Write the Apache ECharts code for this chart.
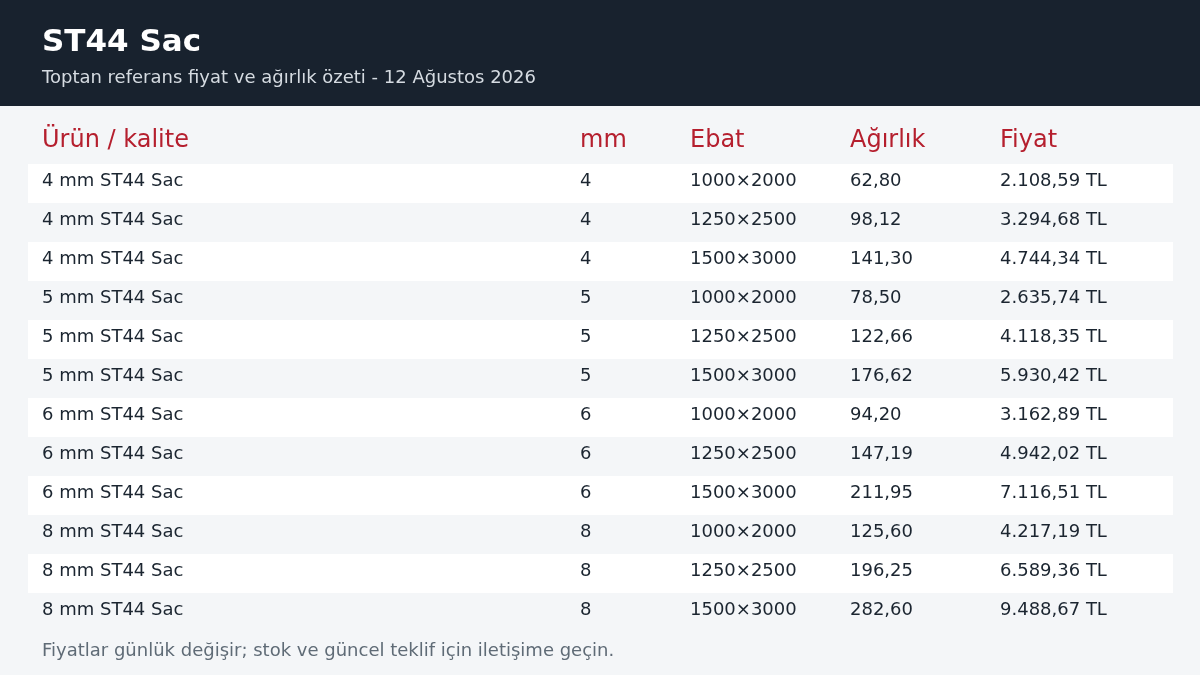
<!DOCTYPE html>
<html><head><meta charset="utf-8">
<script src="https://cdn.jsdelivr.net/npm/echarts@6/dist/echarts.min.js"></script>
<style>html,body{margin:0;padding:0;background:#f4f6f8}#c{width:1200px;height:675px}</style>
</head><body><div id="c"></div>
<script>
var title = 'ST44 Sac'
var subtitle = 'Toptan referans fiyat ve ağırlık özeti - 12 Ağustos 2026'
var footer = 'Fiyatlar günlük değişir; stok ve güncel teklif için iletişime geçin.'
var headers = ['Ürün / kalite', 'mm', 'Ebat', 'Ağırlık', 'Fiyat']
var products = ['4 mm ST44 Sac', '4 mm ST44 Sac', '4 mm ST44 Sac', '5 mm ST44 Sac', '5 mm ST44 Sac', '5 mm ST44 Sac',
    '6 mm ST44 Sac', '6 mm ST44 Sac', '6 mm ST44 Sac', '8 mm ST44 Sac', '8 mm ST44 Sac', '8 mm ST44 Sac']
var thickness = ['4', '4', '4', '5', '5', '5', '6', '6', '6', '8', '8', '8']
var sizes = ['1000×2000', '1250×2500', '1500×3000', '1000×2000', '1250×2500', '1500×3000',
    '1000×2000', '1250×2500', '1500×3000', '1000×2000', '1250×2500', '1500×3000']
var weights = ['62,80', '98,12', '141,30', '78,50', '122,66', '176,62', '94,20', '147,19', '211,95', '125,60', '196,25', '282,60']
var prices = ['2.108,59 TL', '3.294,68 TL', '4.744,34 TL', '2.635,74 TL', '4.118,35 TL', '5.930,42 TL',
    '3.162,89 TL', '4.942,02 TL', '7.116,51 TL', '4.217,19 TL', '6.589,36 TL', '9.488,67 TL']

var colX = [42, 580, 690, 850, 1000]
var font = '"DejaVu Sans", sans-serif'
var els = []
els.push({type: 'rect', shape: {x: 0, y: 0, width: 1200, height: 106}, style: {fill: '#18222e'}})
els.push({type: 'text', x: 42, y: 43, style: {text: title, fill: '#fff', font: 'bold 31px ' + font, verticalAlign: 'middle'}})
els.push({type: 'text', x: 42, y: 78, style: {text: subtitle, fill: '#d5dbe1', font: '18px ' + font, verticalAlign: 'middle'}})
headers.forEach(function (h, i) {
    els.push({type: 'text', x: colX[i], y: 141, style: {text: h, fill: '#b51f2e', font: '24px ' + font, verticalAlign: 'middle'}})
})
var cols = [products, thickness, sizes, weights, prices]
products.forEach(function (p, r) {
    var top = 164 + r * 39
    if (r % 2 === 0) {
        els.push({type: 'rect', shape: {x: 28, y: top, width: 1145, height: 39}, style: {fill: '#ffffff'}})
    }
    cols.forEach(function (col, c) {
        els.push({type: 'text', x: colX[c], y: top + 17, style: {text: col[r], fill: '#1b2530', font: '18px ' + font, verticalAlign: 'middle'}})
    })
})
els.push({type: 'text', x: 42, y: 651, style: {text: footer, fill: '#5f6b76', font: '18px ' + font, verticalAlign: 'middle'}})

var chart = echarts.init(document.getElementById('c'))
chart.setOption({backgroundColor: '#f4f6f8', graphic: {elements: els}})
</script></body></html>
